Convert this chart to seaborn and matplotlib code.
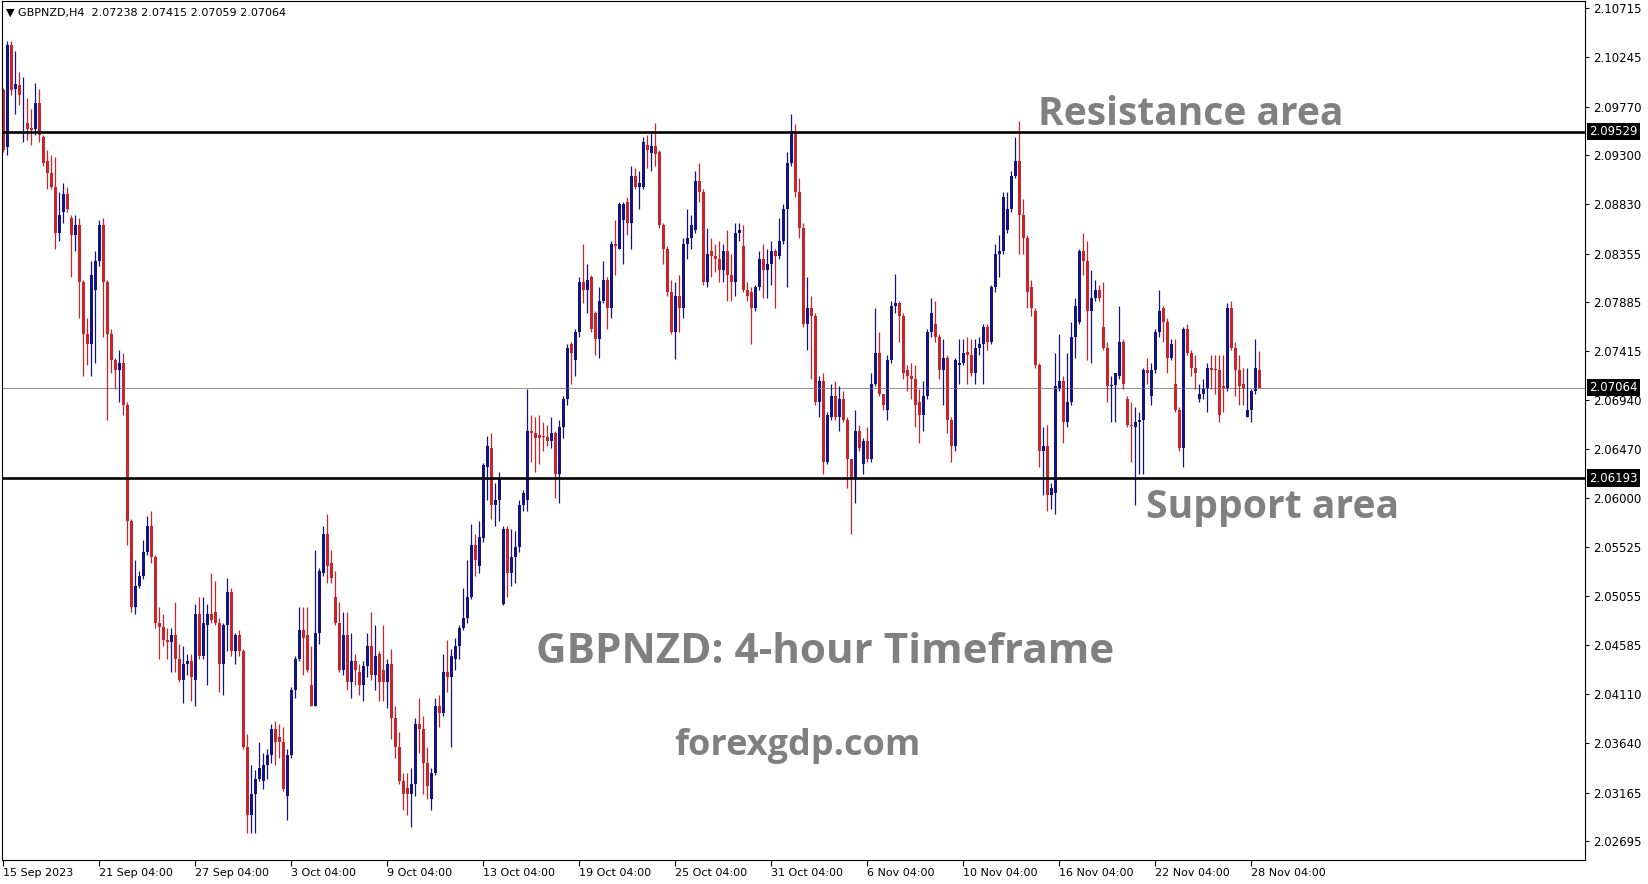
import numpy as np
import pandas as pd
import matplotlib
matplotlib.use("Agg")
import matplotlib.pyplot as plt
import matplotlib.transforms as mtransforms
import seaborn as sns

# GBPNZD H4 candles (15 Sep - 28 Nov 2023)
opens = [
    2.0993, 2.0938, 2.1036, 2.0994, 2.0998, 2.0960, 2.0961, 2.0956, 2.0955, 2.0980,
    2.0948, 2.0925, 2.0913, 2.0900, 2.0855, 2.0875, 2.0893, 2.0870, 2.0853, 2.0863,
    2.0808, 2.0758, 2.0748, 2.0800, 2.0828, 2.0863, 2.0808, 2.0758, 2.0733, 2.0723,
    2.0730, 2.0690, 2.0578, 2.0495, 2.0515, 2.0525, 2.0548, 2.0573, 2.0543, 2.0480,
    2.0476, 2.0463, 2.0461, 2.0468, 2.0445, 2.0425, 2.0440, 2.0443, 2.0425, 2.0488,
    2.0448, 2.0478, 2.0488, 2.0490, 2.0480, 2.0440, 2.0478, 2.0510, 2.0453, 2.0468,
    2.0453, 2.0360, 2.0295, 2.0315, 2.0330, 2.0328, 2.0343, 2.0353, 2.0378, 2.0370,
    2.0365, 2.0313, 2.0353, 2.0415, 2.0445, 2.0473, 2.0468, 2.0420, 2.0400, 2.0470,
    2.0528, 2.0565, 2.0538, 2.0505, 2.0480, 2.0435, 2.0468, 2.0423, 2.0443, 2.0433,
    2.0420, 2.0438, 2.0458, 2.0430, 2.0450, 2.0435, 2.0423, 2.0440, 2.0388, 2.0360,
    2.0328, 2.0321, 2.0315, 2.0325, 2.0383, 2.0378, 2.0345, 2.0310, 2.0335, 2.0400,
    2.0393, 2.0433, 2.0428, 2.0445, 2.0458, 2.0475, 2.0485, 2.0505, 2.0555, 2.0535,
    2.0562, 2.0630, 2.0648, 2.0593, 2.0598, 2.0498, 2.0570, 2.0528, 2.0543, 2.0553,
    2.0593, 2.0598, 2.0665, 2.0663, 2.0661, 2.0660, 2.0659, 2.0655, 2.0663, 2.0623,
    2.0668, 2.0695, 2.0748, 2.0733, 2.0760, 2.0808, 2.0800, 2.0813, 2.0778, 2.0753,
    2.0790, 2.0810, 2.0783, 2.0845, 2.0840, 2.0868, 2.0885, 2.0865, 2.0910, 2.0900,
    2.0900, 2.0940, 2.0932, 2.0939, 2.0933, 2.0863, 2.0840, 2.0798, 2.0760, 2.0795,
    2.0783, 2.0845, 2.0850, 2.0858, 2.0905, 2.0895, 2.0808, 2.0838, 2.0833, 2.0830,
    2.0820, 2.0838, 2.0815, 2.0808, 2.0855, 2.0843, 2.0800, 2.0798, 2.0783, 2.0803,
    2.0830, 2.0820, 2.0825, 2.0838, 2.0833, 2.0848, 2.0878, 2.0923, 2.0953, 2.0895,
    2.0860, 2.0768, 2.0783, 2.0775, 2.0693, 2.0713, 2.0635, 2.0678, 2.0698, 2.0678,
    2.0695, 2.0675, 2.0638, 2.0618, 2.0665, 2.0633, 2.0655, 2.0638, 2.0710, 2.0740,
    2.0700, 2.0685, 2.0733, 2.0785, 2.0788, 2.0775, 2.0723, 2.0718, 2.0715, 2.0693,
    2.0680, 2.0698, 2.0760, 2.0768, 2.0755, 2.0723, 2.0735, 2.0675, 2.0650, 2.0728,
    2.0730, 2.0741, 2.0738, 2.0720, 2.0745, 2.0748, 2.0765, 2.0750, 2.0803, 2.0835,
    2.0838, 2.0858, 2.0878, 2.0910, 2.0925, 2.0873, 2.0850, 2.0803, 2.0780, 2.0728,
    2.0645, 2.0650, 2.0603, 2.0605, 2.0705, 2.0713, 2.0673, 2.0693, 2.0755, 2.0770,
    2.0838, 2.0828, 2.0780, 2.0793, 2.0800, 2.0765, 2.0745, 2.0708, 2.0709, 2.0718,
    2.0750, 2.0695, 2.0670, 2.0668, 2.0673, 2.0675, 2.0723, 2.0698, 2.0723, 2.0760,
    2.0783, 2.0770, 2.0735, 2.0710, 2.0685, 2.0648, 2.0763, 2.0740, 2.0725, 2.0695,
    2.0700, 2.0705, 2.0725, 2.0724, 2.0723, 2.0708, 2.0705, 2.0783, 2.0745, 2.0723,
    2.0710, 2.0678, 2.0685, 2.0703, 2.07238,
]
highs = [
    2.0995, 2.1040, 2.1040, 2.1030, 2.1010, 2.1005, 2.0985, 2.0975, 2.1000, 2.0994,
    2.0950, 2.0935, 2.0930, 2.0928, 2.0895, 2.0903, 2.0900, 2.0873, 2.0873, 2.0870,
    2.0810, 2.0773, 2.0828, 2.0838, 2.0868, 2.0870, 2.0810, 2.0763, 2.0735, 2.0743,
    2.0740, 2.0693, 2.0580, 2.0540, 2.0530, 2.0560, 2.0583, 2.0588, 2.0545, 2.0495,
    2.0488, 2.0475, 2.0475, 2.0500, 2.0460, 2.0458, 2.0450, 2.0450, 2.0498, 2.0505,
    2.0505, 2.0498, 2.0528, 2.0520, 2.0485, 2.0480, 2.0523, 2.0513, 2.0470, 2.0473,
    2.0455, 2.0373, 2.0343, 2.0338, 2.0365, 2.0355, 2.0358, 2.0383, 2.0385, 2.0383,
    2.0380, 2.0358, 2.0418, 2.0448, 2.0495, 2.0495, 2.0495, 2.0458, 2.0550, 2.0533,
    2.0573, 2.0585, 2.0550, 2.0530, 2.0500, 2.0490, 2.0490, 2.0470, 2.0450, 2.0440,
    2.0443, 2.0470, 2.0490, 2.0478, 2.0453, 2.0478, 2.0445, 2.0455, 2.0400, 2.0375,
    2.0335, 2.0335, 2.0340, 2.0388, 2.0408, 2.0390, 2.0360, 2.0340, 2.0408, 2.0410,
    2.0450, 2.0463, 2.0455, 2.0465, 2.0478, 2.0513, 2.0540, 2.0575, 2.0565, 2.0578,
    2.0634, 2.0660, 2.0663, 2.0615, 2.0625, 2.0573, 2.0573, 2.0570, 2.0568, 2.0598,
    2.0608, 2.0705, 2.0680, 2.0678, 2.0680, 2.0673, 2.0670, 2.0678, 2.0665, 2.0675,
    2.0698, 2.0748, 2.0750, 2.0763, 2.0813, 2.0845, 2.0825, 2.0815, 2.0780, 2.0803,
    2.0828, 2.0813, 2.0848, 2.0868, 2.0885, 2.0885, 2.0890, 2.0920, 2.0918, 2.0915,
    2.0948, 2.0950, 2.0953, 2.0961, 2.0935, 2.0865, 2.0843, 2.0810, 2.0808, 2.0815,
    2.0850, 2.0878, 2.0873, 2.0915, 2.0923, 2.0898, 2.0860, 2.0850, 2.0845, 2.0848,
    2.0845, 2.0858, 2.0835, 2.0865, 2.0865, 2.0863, 2.0808, 2.0803, 2.0805, 2.0838,
    2.0845, 2.0840, 2.0848, 2.0840, 2.0870, 2.0883, 2.0933, 2.0970, 2.0960, 2.0908,
    2.0865, 2.0813, 2.0795, 2.0778, 2.0718, 2.0720, 2.0683, 2.0710, 2.0713, 2.0708,
    2.0703, 2.0678, 2.0638, 2.0685, 2.0670, 2.0658, 2.0668, 2.0720, 2.0783, 2.0760,
    2.0700, 2.0738, 2.0790, 2.0816, 2.0790, 2.0778, 2.0728, 2.0730, 2.0728, 2.0705,
    2.0713, 2.0763, 2.0793, 2.0790, 2.0758, 2.0753, 2.0738, 2.0678, 2.0735, 2.0753,
    2.0753, 2.0755, 2.0753, 2.0753, 2.0755, 2.0768, 2.0768, 2.0805, 2.0845, 2.0853,
    2.0895, 2.0895, 2.0915, 2.0948, 2.0963, 2.0888, 2.0853, 2.0810, 2.0783, 2.0730,
    2.0668, 2.0670, 2.0615, 2.0740, 2.0758, 2.0718, 2.0740, 2.0770, 2.0793, 2.0840,
    2.0855, 2.0848, 2.0820, 2.0810, 2.0805, 2.0808, 2.0750, 2.0718, 2.0720, 2.0785,
    2.0753, 2.0698, 2.0693, 2.0688, 2.0683, 2.0725, 2.0735, 2.0730, 2.0763, 2.0800,
    2.0785, 2.0773, 2.0753, 2.0753, 2.0688, 2.0765, 2.0768, 2.0743, 2.0738, 2.0710,
    2.0715, 2.0730, 2.0738, 2.0738, 2.0738, 2.0738, 2.0788, 2.0790, 2.0750, 2.0738,
    2.0725, 2.0725, 2.0705, 2.0753, 2.07415,
]
lows = [
    2.0933, 2.0930, 2.0988, 2.0970, 2.0978, 2.0943, 2.0945, 2.0940, 2.0950, 2.0943,
    2.0920, 2.0898, 2.0898, 2.0840, 2.0848, 2.0865, 2.0875, 2.0813, 2.0838, 2.0773,
    2.0718, 2.0728, 2.0718, 2.0730, 2.0823, 2.0755, 2.0675, 2.0720, 2.0705, 2.0693,
    2.0680, 2.0555, 2.0490, 2.0488, 2.0513, 2.0522, 2.0545, 2.0538, 2.0475, 2.0445,
    2.0458, 2.0445, 2.0433, 2.0433, 2.0423, 2.0403, 2.0430, 2.0405, 2.0400, 2.0445,
    2.0445, 2.0420, 2.0480, 2.0478, 2.0413, 2.0410, 2.0453, 2.0448, 2.0440, 2.0448,
    2.0358, 2.0278, 2.0278, 2.0278, 2.0328, 2.0320, 2.0330, 2.0345, 2.0343, 2.0350,
    2.0318, 2.0290, 2.0350, 2.0408, 2.0443, 2.0430, 2.0433, 2.0400, 2.0400, 2.0460,
    2.0525, 2.0518, 2.0518, 2.0478, 2.0433, 2.0430, 2.0415, 2.0408, 2.0420, 2.0410,
    2.0405, 2.0428, 2.0425, 2.0415, 2.0405, 2.0405, 2.0398, 2.0368, 2.0350, 2.0325,
    2.0300, 2.0295, 2.0283, 2.0313, 2.0355, 2.0315, 2.0310, 2.0300, 2.0333, 2.0380,
    2.0390, 2.0413, 2.0360, 2.0435, 2.0445, 2.0473, 2.0480, 2.0503, 2.0525, 2.0528,
    2.0558, 2.0598, 2.0580, 2.0573, 2.0578, 2.0497, 2.0505, 2.0515, 2.0518, 2.0548,
    2.0588, 2.0588, 2.0635, 2.0625, 2.0633, 2.0645, 2.0650, 2.0648, 2.0600, 2.0595,
    2.0658, 2.0690, 2.0710, 2.0718, 2.0755, 2.0788, 2.0778, 2.0760, 2.0738, 2.0735,
    2.0788, 2.0763, 2.0773, 2.0815, 2.0840, 2.0825, 2.0853, 2.0840, 2.0898, 2.0878,
    2.0898, 2.0918, 2.0915, 2.0920, 2.0860, 2.0825, 2.0795, 2.0758, 2.0734, 2.0760,
    2.0773, 2.0830, 2.0840, 2.0855, 2.0885, 2.0805, 2.0803, 2.0813, 2.0818, 2.0808,
    2.0808, 2.0790, 2.0790, 2.0795, 2.0848, 2.0798, 2.0790, 2.0748, 2.0780, 2.0800,
    2.0793, 2.0793, 2.0805, 2.0783, 2.0830, 2.0845, 2.0803, 2.0920, 2.0890, 2.0850,
    2.0765, 2.0743, 2.0715, 2.0690, 2.0678, 2.0623, 2.0633, 2.0675, 2.0675, 2.0665,
    2.0673, 2.0610, 2.0565, 2.0595, 2.0645, 2.0623, 2.0635, 2.0635, 2.0708, 2.0698,
    2.0685, 2.0675, 2.0730, 2.0778, 2.0750, 2.0715, 2.0703, 2.0695, 2.0668, 2.0653,
    2.0665, 2.0695, 2.0755, 2.0750, 2.0715, 2.0690, 2.0663, 2.0635, 2.0645, 2.0710,
    2.0728, 2.0710, 2.0718, 2.0710, 2.0738, 2.0710, 2.0743, 2.0748, 2.0798, 2.0813,
    2.0835, 2.0855, 2.0875, 2.0908, 2.0835, 2.0835, 2.0783, 2.0775, 2.0725, 2.0630,
    2.0603, 2.0588, 2.0590, 2.0585, 2.0703, 2.0653, 2.0668, 2.0690, 2.0735, 2.0768,
    2.0815, 2.0733, 2.0730, 2.0790, 2.0790, 2.0743, 2.0693, 2.0673, 2.0673, 2.0715,
    2.0705, 2.0668, 2.0635, 2.0593, 2.0623, 2.0623, 2.0710, 2.0690, 2.0720, 2.0755,
    2.0750, 2.0720, 2.0733, 2.0683, 2.0645, 2.0630, 2.0738, 2.0718, 2.0705, 2.0693,
    2.0695, 2.0683, 2.0705, 2.0700, 2.0673, 2.0683, 2.0703, 2.0743, 2.0698, 2.0690,
    2.0690, 2.0678, 2.0673, 2.0700, 2.07059,
]
closes = [
    2.0935, 2.1036, 2.0993, 2.0999, 2.0988, 2.0960, 2.0955, 2.0954, 2.0980, 2.0950,
    2.0923, 2.0913, 2.0900, 2.0855, 2.0873, 2.0893, 2.0878, 2.0853, 2.0863, 2.0808,
    2.0758, 2.0748, 2.0815, 2.0828, 2.0863, 2.0808, 2.0758, 2.0733, 2.0723, 2.0730,
    2.0690, 2.0578, 2.0495, 2.0515, 2.0525, 2.0548, 2.0573, 2.0543, 2.0480, 2.0476,
    2.0463, 2.0461, 2.0468, 2.0445, 2.0425, 2.0440, 2.0443, 2.0428, 2.0488, 2.0448,
    2.0480, 2.0488, 2.0483, 2.0480, 2.0440, 2.0478, 2.0510, 2.0453, 2.0468, 2.0453,
    2.0360, 2.0295, 2.0315, 2.0330, 2.0340, 2.0343, 2.0353, 2.0378, 2.0365, 2.0365,
    2.0320, 2.0353, 2.0415, 2.0445, 2.0473, 2.0465, 2.0435, 2.0400, 2.0470, 2.0530,
    2.0565, 2.0535, 2.0523, 2.0480, 2.0435, 2.0468, 2.0423, 2.0443, 2.0435, 2.0420,
    2.0438, 2.0458, 2.0430, 2.0448, 2.0423, 2.0423, 2.0440, 2.0388, 2.0360, 2.0328,
    2.0315, 2.0315, 2.0325, 2.0383, 2.0378, 2.0345, 2.0323, 2.0335, 2.0400, 2.0393,
    2.0433, 2.0428, 2.0448, 2.0458, 2.0475, 2.0485, 2.0505, 2.0555, 2.0540, 2.0563,
    2.0632, 2.0650, 2.0593, 2.0598, 2.0618, 2.0570, 2.0528, 2.0543, 2.0553, 2.0593,
    2.0605, 2.0665, 2.0663, 2.0658, 2.0658, 2.0659, 2.0655, 2.0663, 2.0623, 2.0668,
    2.0695, 2.0745, 2.0740, 2.0760, 2.0808, 2.0800, 2.0810, 2.0763, 2.0753, 2.0790,
    2.0810, 2.0783, 2.0845, 2.0843, 2.0883, 2.0883, 2.0865, 2.0910, 2.0900, 2.0903,
    2.0943, 2.0935, 2.0939, 2.0931, 2.0863, 2.0840, 2.0798, 2.0760, 2.0795, 2.0783,
    2.0845, 2.0850, 2.0863, 2.0905, 2.0895, 2.0808, 2.0835, 2.0833, 2.0830, 2.0820,
    2.0838, 2.0815, 2.0808, 2.0855, 2.0858, 2.0800, 2.0795, 2.0783, 2.0803, 2.0830,
    2.0820, 2.0825, 2.0838, 2.0833, 2.0848, 2.0878, 2.0923, 2.0953, 2.0895, 2.0860,
    2.0768, 2.0783, 2.0775, 2.0693, 2.0713, 2.0635, 2.0680, 2.0698, 2.0678, 2.0695,
    2.0675, 2.0638, 2.0618, 2.0665, 2.0648, 2.0655, 2.0638, 2.0710, 2.0740, 2.0700,
    2.0690, 2.0733, 2.0785, 2.0788, 2.0775, 2.0720, 2.0718, 2.0715, 2.0690, 2.0680,
    2.0698, 2.0760, 2.0778, 2.0755, 2.0723, 2.0735, 2.0675, 2.0650, 2.0733, 2.0730,
    2.0740, 2.0738, 2.0720, 2.0745, 2.0748, 2.0765, 2.0750, 2.0803, 2.0835, 2.0838,
    2.0890, 2.0878, 2.0910, 2.0925, 2.0873, 2.0850, 2.0798, 2.0783, 2.0728, 2.0645,
    2.0650, 2.0603, 2.0610, 2.0708, 2.0713, 2.0673, 2.0693, 2.0755, 2.0785, 2.0838,
    2.0828, 2.0780, 2.0793, 2.0800, 2.0793, 2.0745, 2.0708, 2.0709, 2.0720, 2.0750,
    2.0710, 2.0670, 2.0669, 2.0673, 2.0675, 2.0723, 2.0720, 2.0723, 2.0760, 2.0780,
    2.0770, 2.0735, 2.0748, 2.0685, 2.0648, 2.0763, 2.0740, 2.0725, 2.0720, 2.0700,
    2.0705, 2.0725, 2.0723, 2.0723, 2.0680, 2.0705, 2.0783, 2.0745, 2.0723, 2.0708,
    2.0705, 2.0685, 2.0703, 2.0725, 2.07064,
]

time_labels = ["15 Sep 2023", "21 Sep 04:00", "27 Sep 04:00", "3 Oct 04:00",
               "9 Oct 04:00", "13 Oct 04:00", "19 Oct 04:00", "25 Oct 04:00",
               "31 Oct 04:00", "6 Nov 04:00", "10 Nov 04:00", "16 Nov 04:00",
               "22 Nov 04:00", "28 Nov 04:00"]
bars_per_label = 24
price_ticks = [2.10715, 2.10245, 2.09770, 2.09300, 2.08830, 2.08355, 2.07885,
               2.07415, 2.06940, 2.06470, 2.06000, 2.05525, 2.05055, 2.04585,
               2.04110, 2.03640, 2.03165, 2.02695]
resistance = 2.09529
support = 2.06193
last_price = 2.07064
header = "\u25BC GBPNZD,H4  2.07238 2.07415 2.07059 2.07064"

BULL = "#12128C"
BEAR = "#CC2229"
GREY_TXT = "#808080"

sns.set_theme(style="white")
plt.rcParams["font.family"] = ["DejaVu Sans"]

df = pd.DataFrame({"open": opens, "high": highs, "low": lows, "close": closes})
df["bar"] = np.arange(len(df))
df["colour"] = np.where(df["close"] >= df["open"], BULL, BEAR)
df["bottom"] = df[["open", "close"]].min(axis=1)
df["body"] = (df["close"] - df["open"]).abs().clip(lower=0.00003)

W, H = 1649, 884
fig = plt.figure(figsize=(W / 100, H / 100), dpi=100)
fig.patch.set_facecolor("white")
ax = fig.add_axes([2 / W, (H - 860) / H, 1583 / W, 859 / H])
ax.set_facecolor("white")

# candles
ax.vlines(df["bar"], df["low"], df["high"], colors=df["colour"], linewidth=0.9)
ax.bar(df["bar"], df["body"], bottom=df["bottom"], width=0.62,
       color=df["colour"], linewidth=0)

# levels
ax.axhline(resistance, color="black", linewidth=1.9, zorder=3)
ax.axhline(support, color="black", linewidth=1.9, zorder=3)
ax.axhline(last_price, color="#909090", linewidth=0.7, zorder=1)

ax.set_xlim(-0.375, 395.4)
ax.set_ylim(2.02516, 2.10786)

for side in ["left", "right", "top", "bottom"]:
    ax.spines[side].set_visible(True)
    ax.spines[side].set_color("black")
    ax.spines[side].set_linewidth(0.8)

ax.yaxis.tick_right()
ax.set_yticks(price_ticks)
ax.set_yticklabels([f"{p:.5f}" for p in price_ticks])
ax.set_xticks(np.arange(len(time_labels)) * bars_per_label)
ax.set_xticklabels(time_labels)
ax.tick_params(axis="y", which="major", right=True, left=False, direction="out",
               length=3, width=0.8, pad=3, labelsize=8.5, colors="black")
ax.tick_params(axis="x", which="major", bottom=True, direction="out",
               length=4, width=0.8, pad=2, labelsize=8, colors="black")
for lab in ax.get_xticklabels():
    lab.set_horizontalalignment("left")
ax.grid(False)

# price boxes on the right axis
trans = mtransforms.blended_transform_factory(ax.transAxes, ax.transData)
for level in [resistance, last_price, support]:
    ax.text(1.0026, level, f"{level:.5f}", transform=trans, ha="left", va="center",
            color="white", fontsize=8.5, clip_on=False, zorder=5,
            bbox=dict(boxstyle="square,pad=0.18", fc="black", ec="none"))

# header
fig.text(6 / W, 1 - 13 / H, header, ha="left", va="center", fontsize=8, color="black")

# annotations
big = dict(ha="left", va="baseline", color=GREY_TXT, fontweight="bold",
           family=["Open Sans", "DejaVu Sans"])
fig.text(1038 / W, 1 - 125 / H, "Resistance area", fontsize=28.1, **big)
fig.text(1146 / W, 1 - 518 / H, "Support area", fontsize=28.2, **big)
fig.text(536 / W, 1 - 663 / H, "GBPNZD: 4-hour Timeframe", fontsize=30.4, **big)
fig.text(674 / W, 1 - 755 / H, "forexgdp.com", fontsize=26, **big)

fig.savefig("out.png", dpi=100, facecolor="white")
